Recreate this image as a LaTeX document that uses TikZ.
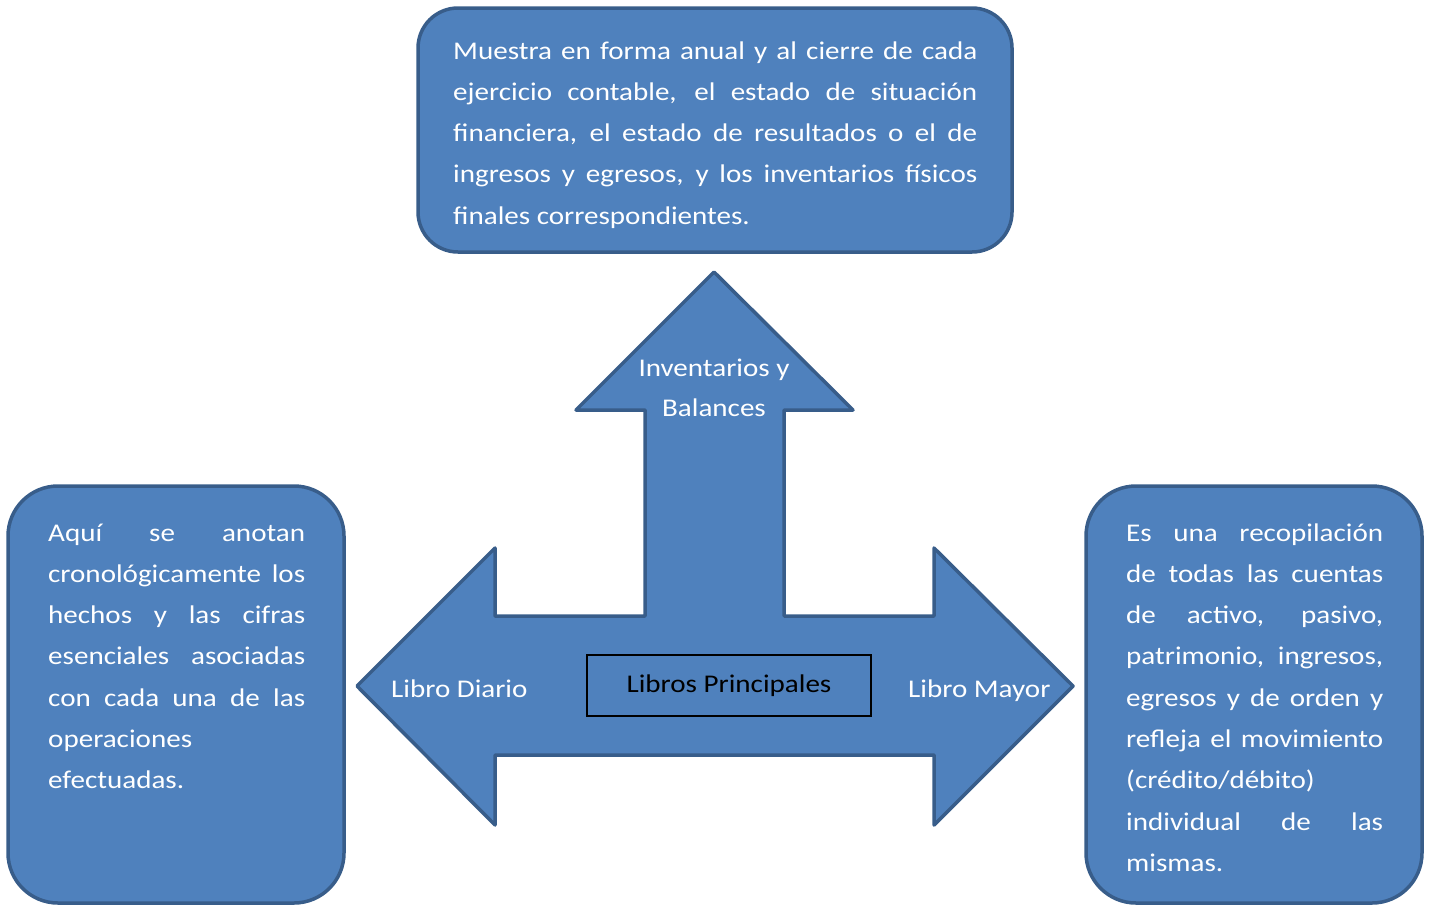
\documentclass[tikz,border=0pt]{standalone}
\usepackage{fontspec}
\setmainfont{Carlito}[FakeStretch=1.14]
\definecolor{boxfill}{HTML}{4F81BD}
\definecolor{boxline}{HTML}{385D8A}
\newcommand\jl[1]{\hbox to \hsize{#1}}
\newcommand\nl[1]{\hbox to \hsize{#1\hfil}}
\begin{document}
\begin{tikzpicture}[x=1pt,y=-1pt,
  every node/.style={inner sep=0pt, font=\fontsize{25.5}{41.3}\selectfont},
  panel/.style={draw=boxline, fill=boxfill, line width=3.5pt},
  wtext/.style={text=white, anchor=base west},
  lbl/.style={text=white, anchor=base west}]
\useasboundingbox (0,0) rectangle (1431,905);
% boxes
\draw[panel, rounded corners=40pt] (418,8) rectangle (1012,252);
\draw[panel, rounded corners=50pt] (8,486) rectangle (344,903);
\draw[panel, rounded corners=50pt] (1086,486) rectangle (1422,903);
% three-way arrow
\draw[panel, line join=round] (714,272) -- (853,410) -- (784,410) -- (784,616) -- (934,616) -- (934,548)
  -- (1073,686) -- (934,825) -- (934,755) -- (495,755) -- (495,825) -- (357,686) -- (495,548)
  -- (495,616) -- (645,616) -- (645,410) -- (576,410) -- cycle;
% top text
\begin{scope}
\clip (418,8) rectangle (1012,229);
\node[wtext] (toptext) at (453,59) {\vtop{\hsize=524pt\baselineskip=41.3pt
  \jl{Muestra en forma anual y al cierre de cada}
  \jl{ejercicio contable, el estado de situación}
  \jl{financiera, el estado de resultados o el de}
  \jl{ingresos y egresos, y los inventarios físicos}
  \nl{finales correspondientes.}}};
\end{scope}
% left text
\node[wtext] (lefttext) at (48,541) {\vtop{\hsize=257pt\baselineskip=41.3pt
  \jl{Aquí se anotan}
  \jl{cronológicamente los}
  \jl{hechos y las cifras}
  \jl{esenciales asociadas}
  \jl{con cada una de las}
  \nl{operaciones}
  \nl{efectuadas.}}};
% right text
\node[wtext] (righttext) at (1126,541) {\vtop{\hsize=257pt\baselineskip=41.3pt
  \jl{Es una recopilación}
  \jl{de todas las cuentas}
  \jl{de activo, pasivo,}
  \jl{patrimonio, ingresos,}
  \jl{egresos y de orden y}
  \jl{refleja el movimiento}
  \nl{(crédito/débito)}
  \jl{individual de las}
  \nl{mismas.}}};
% arrow labels
\node[text=white, anchor=base] (inv) at (714,376) {\vtop{\hsize=300pt\baselineskip=40pt\centering Inventarios y\\Balances\par}};
\node[lbl] (diario) at (391,697) {Libro Diario};
\node[lbl] (mayor) at (908,697) {Libro Mayor};
\node[draw=black, line width=1.5pt, minimum width=284pt, minimum height=61pt, text=black] (center) at (729,685.5) {Libros Principales};
\end{tikzpicture}
\end{document}
